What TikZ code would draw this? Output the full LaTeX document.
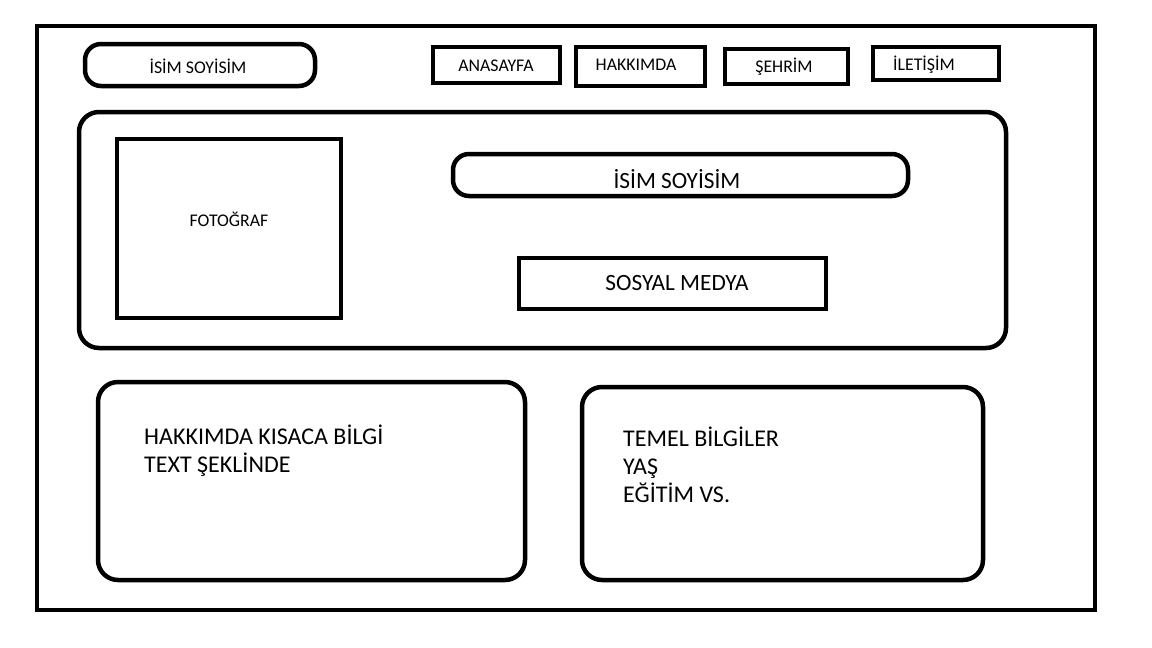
\documentclass[tikz,border=0pt]{standalone}
\usepackage{fontspec}
\setmainfont{Carlito}
\begin{document}
\begin{tikzpicture}[x=1pt,y=-1pt,
  frame/.style={draw=black,line width=4.5pt},
  pill/.style={frame,rounded corners=16pt},
  card/.style={frame,rounded corners=20pt},
  small/.style={font=\fontsize{17.8}{21}\selectfont,inner sep=0pt},
  big/.style={font=\fontsize{23.3}{28}\selectfont,inner sep=0pt},
  para/.style={font=\fontsize{24}{28}\selectfont,inner sep=0pt,align=left,anchor=base west}]
\useasboundingbox (0,0) rectangle (1152,648);
\fill[white] (0,0) rectangle (1152,648);
% outer frame
\draw[frame] (37,26) rectangle (1095,610);
% header
\draw[pill] (85,44) rectangle (315,86);
\node[small] (name1) at (198,66) {İSİM SOYİSİM};
\draw[frame] (433,47) rectangle (560,83);
\node[small] (ana) at (496,66) {ANASAYFA};
\draw[frame] (576,47) rectangle (705,86);
\node[small] (hak) at (636,65) {HAKKIMDA};
\draw[frame] (725,49) rectangle (848,84);
\node[small] (seh) at (784,67) {ŞEHRİM};
\draw[frame] (873,47) rectangle (999,80);
\node[small] (ile) at (924,65) {İLETİŞİM};
% hero
\draw[card] (79,112) rectangle (1006,348);
\draw[frame] (117,139) rectangle (341,318);
\node[small] (foto) at (229,219) {FOTOĞRAF};
\draw[pill] (453,154) rectangle (908,196);
\node[big] (name2) at (677,179) {İSİM SOYİSİM};
\draw[frame] (519,258) rectangle (826,309);
\node[big] (sosyal) at (677,283) {SOSYAL MEDYA};
% bottom cards
\draw[card] (98,382) rectangle (525,580);
\node[para] (about) at (144,472) {HAKKIMDA KISACA BİLGİ\\TEXT ŞEKLİNDE};
\draw[card] (582,387) rectangle (983,580);
\node[para] (info) at (623,502) {TEMEL BİLGİLER\\YAŞ\\EĞİTİM VS.};
\end{tikzpicture}
\end{document}
